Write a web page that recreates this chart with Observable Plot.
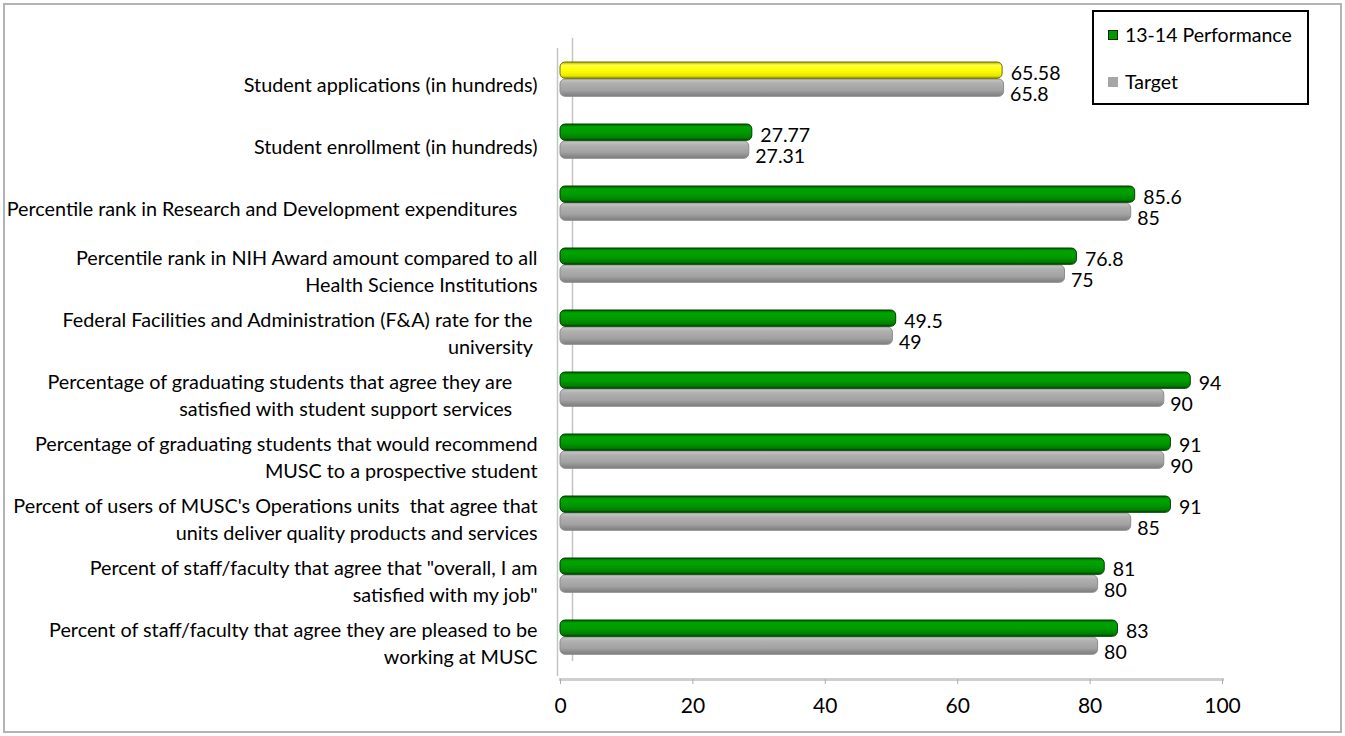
<!DOCTYPE html>
<html>
<head>
<meta charset="utf-8">
<script src="https://cdn.jsdelivr.net/npm/d3@7"></script>
<script src="https://cdn.jsdelivr.net/npm/@observablehq/plot@0.6"></script>
<style>
  html, body { margin: 0; padding: 0; background: #fff; }
  #wrap { position: relative; width: 1345px; height: 736px; overflow: hidden; font-family: Lato, "Liberation Sans", sans-serif; }
  #border { position: absolute; left: 3px; top: 3px; width: 1339px; height: 730px; border: 2px solid #b4b4b4; box-sizing: border-box; pointer-events: none; }
  #legend { position: absolute; left: 1092px; top: 10px; width: 217px; height: 95px; border: 2px solid #000; box-sizing: border-box; background: #fff; font-size: 19.5px; color: #000; }
  .item { position: absolute; left: 14px; display: flex; align-items: center; white-space: nowrap; }
  .sw { width: 10px; height: 10px; margin-right: 7px; box-sizing: border-box; }
</style>
</head>
<body>
<div id="wrap">
  <div id="chart"></div>
  <div id="border"></div>
  <div id="legend"></div>
</div>
<script>
// ---- data ----
const categories = [
  "Student applications (in hundreds)",
  "Student enrollment (in hundreds)",
  "Percentile rank in Research and Development expenditures\u00a0\u00a0\u00a0\u00a0",
  "Percentile rank in NIH Award amount compared to all\nHealth Science Institutions",
  "Federal Facilities and Administration (F&A) rate for the\u00a0\nuniversity\u00a0",
  "Percentage of graduating students that agree they are\u00a0\u00a0\u00a0\u00a0\u00a0\nsatisfied with student support services\u00a0\u00a0\u00a0\u00a0\u00a0",
  "Percentage of graduating students that would recommend\nMUSC to a prospective student",
  "Percent of users of MUSC's Operations units\u00a0 that agree that\nunits deliver quality products and services",
  "Percent of staff/faculty that agree that \"overall, I am\nsatisfied with my job\"",
  "Percent of staff/faculty that agree they are pleased to be\nworking at MUSC"
];
const performance = [65.58, 27.77, 85.6, 76.8, 49.5, 94, 91, 91, 81, 83];
const target      = [65.8, 27.31, 85, 75, 49, 90, 90, 85, 80, 80];
const seriesNames = ["13-14 Performance", "Target"];
const xTicks = [0, 20, 40, 60, 80, 100];
const highlightedCategory = categories[0];

const perfRows = categories.map((c, i) => ({category: c, value: performance[i], series: seriesNames[0]}));
const targetRows = categories.map((c, i) => ({category: c, value: target[i], series: seriesNames[1]}));

const fmt = v => String(v);

const plot = Plot.plot({
  width: 1345,
  height: 736,
  marginLeft: 560,
  marginRight: 123,
  marginTop: 38,
  marginBottom: 57,
  style: {fontFamily: "Lato, 'Liberation Sans', sans-serif", fontSize: "19.8px", color: "#000", background: "transparent"},
  x: {domain: [0, 100], ticks: xTicks},
  y: {domain: categories, padding: 0, insetTop: 6, insetBottom: 8},
  marks: [
    // 3D back wall edges
    Plot.ruleX([0], {stroke: "#c4c4c4", strokeWidth: 1.5, dx: -3, insetTop: 10, insetBottom: 3}),
    Plot.ruleX([0], {stroke: "#c4c4c4", strokeWidth: 1.5, dx: 12, insetTop: 0, insetBottom: 18}),
    // floor front edge
    Plot.frame({anchor: "bottom", stroke: "#cfcfcf", strokeWidth: 3}),
    Plot.axisX({ticks: xTicks, tickSize: 5, stroke: "#aaa", tickPadding: 14, fontSize: 21, label: null}),
    Plot.axisY({tickSize: 0, tickPadding: 23, dy: 4, fontSize: 19.8, lineHeight: 1.4, label: null, textAnchor: "end"}),
    // target bars
    Plot.barX(targetRows, {x: "value", y: "category", fill: "url(#gGray)", stroke: "#8c8c8c", strokeWidth: 1,
      insetTop: 31, insetBottom: 13.7, insetRight: -8, rx: 5}),
    // performance bars
    Plot.barX(perfRows, {x: "value", y: "category",
      fill: d => d.category === highlightedCategory ? "url(#gYellow)" : "url(#gGreen)",
      stroke: d => d.category === highlightedCategory ? "#6f6f00" : "#003f00", strokeWidth: 1,
      insetTop: 14, insetBottom: 31.7, insetRight: -8, rx: 5}),
    // value labels
    Plot.text(perfRows, {x: "value", y: "category", text: d => fmt(d.value), textAnchor: "start", dx: 16, dy: -6, fontSize: 19.5, fill: "#000"}),
    Plot.text(targetRows, {x: "value", y: "category", text: d => fmt(d.value), textAnchor: "start", dx: 14, dy: 15, fontSize: 19.5, fill: "#000"})
  ]
});

// gradients for the cylinder look
const ns = "http://www.w3.org/2000/svg";
const defs = document.createElementNS(ns, "defs");
function grad(id, stops) {
  const g = document.createElementNS(ns, "linearGradient");
  g.setAttribute("id", id);
  g.setAttribute("x1", "0"); g.setAttribute("y1", "0");
  g.setAttribute("x2", "0"); g.setAttribute("y2", "1");
  for (const [o, c] of stops) {
    const s = document.createElementNS(ns, "stop");
    s.setAttribute("offset", o);
    s.setAttribute("stop-color", c);
    g.appendChild(s);
  }
  defs.appendChild(g);
}
grad("gGreen", [["0%", "#005f00"], ["18%", "#00a400"], ["55%", "#009a00"], ["85%", "#007f00"], ["100%", "#004d00"]]);
grad("gYellow", [["0%", "#a9a900"], ["18%", "#ffff40"], ["55%", "#ffff00"], ["85%", "#e6e600"], ["100%", "#9a9a00"]]);
grad("gGray", [["0%", "#c8c8c8"], ["25%", "#b0b0b0"], ["65%", "#a2a2a2"], ["100%", "#7c7c7c"]]);
plot.insertBefore(defs, plot.firstChild);

document.getElementById("chart").appendChild(plot);

// legend
const legend = document.getElementById("legend");
const legendItems = [
  {name: seriesNames[0], fill: "#009a00", border: "1.5px solid #002a00", top: 11},
  {name: seriesNames[1], fill: "#a6a6a6", border: "none", top: 58}
];
for (const it of legendItems) {
  const row = document.createElement("div");
  row.className = "item";
  row.style.top = it.top + "px";
  const sw = document.createElement("div");
  sw.className = "sw";
  sw.style.background = it.fill;
  sw.style.border = it.border;
  const t = document.createElement("span");
  t.textContent = it.name;
  row.appendChild(sw);
  row.appendChild(t);
  legend.appendChild(row);
}
</script>
</body>
</html>
